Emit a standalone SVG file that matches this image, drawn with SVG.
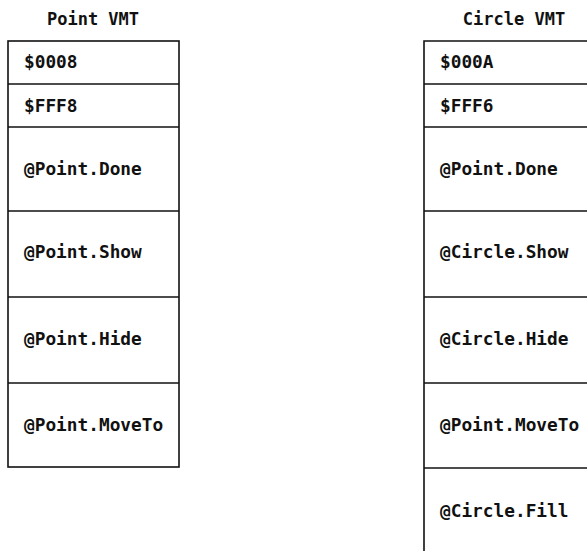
<svg xmlns="http://www.w3.org/2000/svg" width="587" height="551" viewBox="0 0 587 551">
<style>
.t{font-family:"DejaVu Sans Mono","Liberation Mono",monospace;font-size:17.8px;fill:#111;font-weight:bold}
.h{font-family:"DejaVu Sans Mono","Liberation Mono",monospace;font-size:17px;fill:#111;font-weight:bold;text-anchor:middle}
.b{fill:#fff;stroke:#111;stroke-width:1.6}
.l{stroke:#111;stroke-width:1.6;fill:none}
</style>
<rect width="587" height="551" fill="#fff"/>
<g id="point-vmt">
<text class="h" x="93" y="25">Point VMT</text>
<rect class="b" x="8" y="41" width="171" height="426"/>
<g id="p-size"><text class="t" x="24" y="68">$0008</text></g>
<line class="l" x1="8" y1="84" x2="179" y2="84"/>
<g id="p-neg"><text class="t" x="24" y="112">$FFF8</text></g>
<line class="l" x1="8" y1="127" x2="179" y2="127"/>
<g id="p-done"><text class="t" x="24" y="175">@Point.Done</text></g>
<line class="l" x1="8" y1="211" x2="179" y2="211"/>
<g id="p-show"><text class="t" x="24" y="258">@Point.Show</text></g>
<line class="l" x1="8" y1="297" x2="179" y2="297"/>
<g id="p-hide"><text class="t" x="24" y="345">@Point.Hide</text></g>
<line class="l" x1="8" y1="383" x2="179" y2="383"/>
<g id="p-moveto"><text class="t" x="24" y="431">@Point.MoveTo</text></g>
</g>
<g id="circle-vmt">
<text class="h" x="514" y="25">Circle VMT</text>
<polyline class="l" points="600,41 424,41 424,551"/>
<g id="c-size"><text class="t" x="440" y="68">$000A</text></g>
<line class="l" x1="424" y1="84" x2="600" y2="84"/>
<g id="c-neg"><text class="t" x="440" y="112">$FFF6</text></g>
<line class="l" x1="424" y1="127" x2="600" y2="127"/>
<g id="c-done"><text class="t" x="440" y="175">@Point.Done</text></g>
<line class="l" x1="424" y1="211" x2="600" y2="211"/>
<g id="c-show"><text class="t" x="440" y="258">@Circle.Show</text></g>
<line class="l" x1="424" y1="297" x2="600" y2="297"/>
<g id="c-hide"><text class="t" x="440" y="345">@Circle.Hide</text></g>
<line class="l" x1="424" y1="383" x2="600" y2="383"/>
<g id="c-moveto"><text class="t" x="440" y="431">@Point.MoveTo</text></g>
<line class="l" x1="424" y1="468" x2="600" y2="468"/>
<g id="c-fill"><text class="t" x="440" y="517">@Circle.Fill</text></g>
</g>
<g id="connectors"/>
</svg>
